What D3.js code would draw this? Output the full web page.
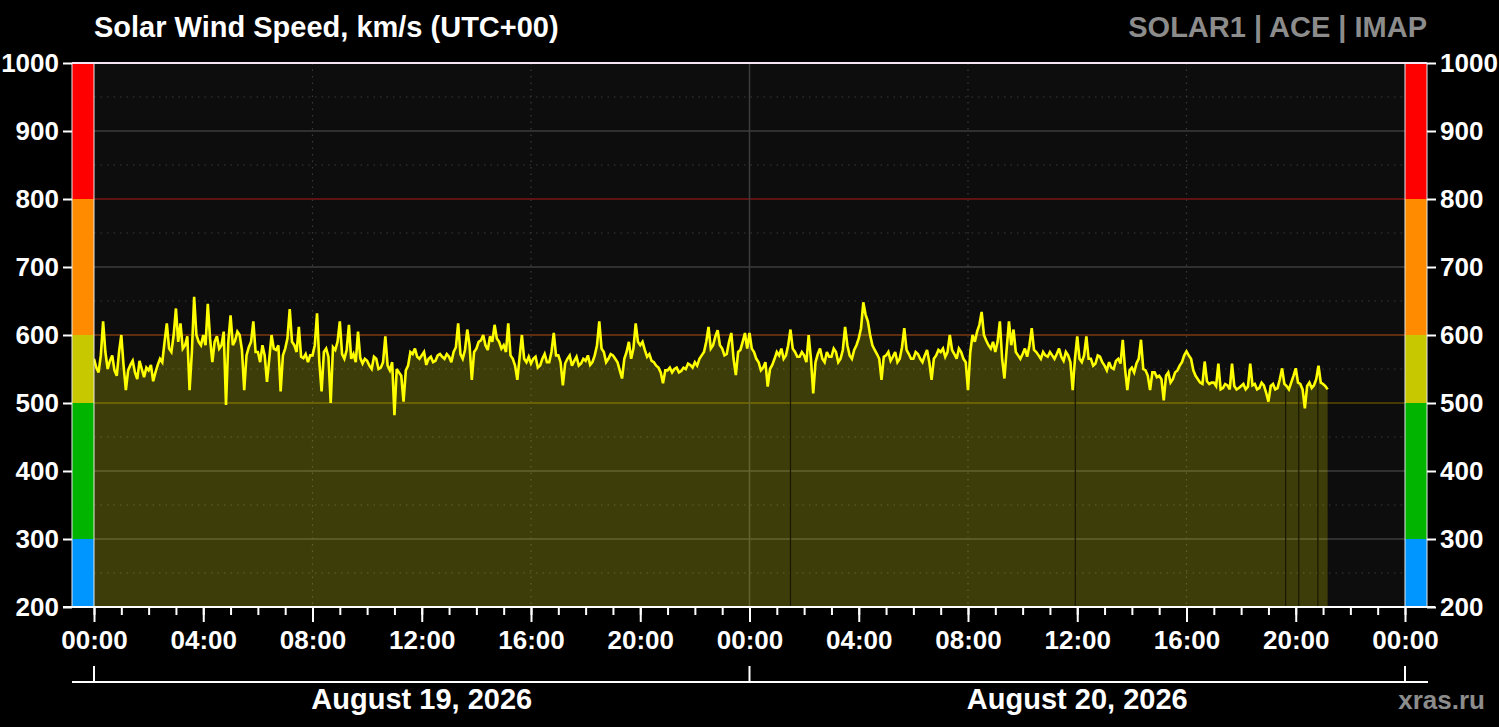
<!DOCTYPE html>
<html>
<head>
<meta charset="utf-8">
<script src="https://cdn.jsdelivr.net/npm/d3@7"></script>
<style>
  html, body { margin: 0; padding: 0; background: #000; }
  svg { display: block; font-family: "Liberation Sans", Arial, sans-serif; font-weight: bold; }
</style>
</head>
<body>
<script>
// solar wind speed, 5-minute samples from Aug 19 2026 00:00 UTC (one row per hour)
const startTime = Date.UTC(2026, 7, 19);
const stepMinutes = 5;

const speedDay1 = [
  565, 552, 545, 570, 620, 575, 550, 562, 570, 548, 540, 575,
  600, 555, 519, 548, 556, 562, 545, 535, 562, 550, 538, 552,
  548, 556, 532, 545, 556, 565, 560, 590, 617, 580, 575, 600,
  639, 590, 617, 580, 585, 598, 519, 575, 656, 600, 590, 585,
  600, 585, 646, 595, 560, 590, 598, 580, 585, 605, 497, 590,
  629, 585, 592, 605, 600, 578, 519, 570, 582, 590, 620, 575,
  575, 560, 585, 570, 531, 565, 600, 580, 578, 585, 517, 570,
  580, 595, 638, 590, 585, 575, 612, 568, 566, 572, 560, 570,
  570, 585, 632, 560, 517, 575, 580, 568, 500, 582, 578, 590,
  620, 572, 565, 578, 615, 565, 572, 560, 605, 566, 558, 565,
  562, 555, 550, 568, 565, 550, 552, 560, 598, 555, 548, 560,
  482, 550, 545, 540, 502, 548, 555, 575, 572, 580, 568, 565,
  570, 575, 556, 565, 568, 560, 562, 570, 572, 568, 565, 572,
  568, 560, 575, 582, 617, 572, 565, 578, 608, 585, 534, 575,
  580, 590, 592, 600, 585, 578, 598, 590, 615, 595, 590, 580,
  585, 575, 617, 570, 565, 555, 534, 568, 600, 565, 560, 568,
  558, 565, 568, 552, 555, 565, 572, 560, 560, 575, 603, 570,
  570, 560, 526, 558, 565, 570, 555, 562, 568, 555, 558, 565,
  562, 570, 556, 560, 570, 585, 620, 580, 575, 560, 565, 572,
  570, 565, 560, 548, 536, 565, 575, 590, 565, 580, 617, 590,
  585, 590, 578, 568, 572, 562, 560, 555, 552, 545, 529, 548,
  548, 552, 545, 550, 552, 545, 547, 552, 550, 558, 556, 552,
  560, 555, 565, 570, 575, 590, 612, 580, 585, 598, 607, 585,
  580, 570, 572, 590, 603, 565, 541, 575, 578, 590, 603, 580
];

const speedDay2 = [
  603, 580, 575, 565, 560, 548, 552, 560, 524, 550, 556, 565,
  575, 570, 580, 565, 570, 585, 608, 580, 575, 568, 568, 575,
  570, 560, 600, 565, 514, 560, 572, 580, 565, 560, 575, 568,
  568, 580, 575, 560, 565, 578, 612, 585, 570, 565, 578, 585,
  595, 610, 648, 630, 620, 600, 585, 578, 572, 565, 534, 568,
  570, 575, 562, 568, 575, 560, 565, 582, 610, 578, 572, 565,
  565, 575, 572, 565, 560, 570, 578, 560, 534, 565, 570, 578,
  575, 580, 568, 575, 600, 578, 572, 565, 580, 575, 565, 560,
  519, 575, 600, 590, 605, 615, 634, 600, 592, 585, 580, 590,
  575, 590, 620, 565, 536, 580, 620, 585, 608, 575, 570, 565,
  572, 580, 568, 585, 610, 578, 575, 570, 565, 575, 570, 568,
  575, 570, 565, 572, 580, 568, 562, 575, 570, 560, 519, 565,
  598, 565, 560, 570, 598, 565, 565, 555, 558, 570, 568, 560,
  555, 548, 560, 552, 550, 562, 565, 558, 593, 550, 519, 548,
  552, 545, 558, 565, 593, 550, 548, 540, 519, 545, 545, 538,
  540, 535, 504, 540, 545, 530, 535, 545, 548, 555, 560, 570,
  576, 570, 565, 548, 540, 535, 530, 528, 561, 532, 528, 530,
  530, 525, 558, 520, 522, 528, 526, 520, 558, 525, 520, 522,
  525, 528, 520, 524, 558, 526, 528, 520, 522, 530, 526, 515,
  502, 525, 528, 520, 522, 535, 551, 528, 525, 520, 530, 540,
  551, 530, 528, 520, 492, 525, 530, 522, 526, 535, 555, 530,
  528, 525, 520
];

// short data dropouts (hours since start)
const gapHours = [25.5, 35.93, 43.63, 44.11, 44.81];

const yTicks = [200, 300, 400, 500, 600, 700, 800, 900, 1000];
const yHalfTicks = [250, 350, 450, 550, 650, 750, 850, 950];
const levelBands = [
  { from: 200, to: 300, color: "#0096ff" },
  { from: 300, to: 500, color: "#00b400" },
  { from: 500, to: 600, color: "#c8c800" },
  { from: 600, to: 800, color: "#ff8c00" },
  { from: 800, to: 1000, color: "#ff0000" }
];
const levelLines = [
  { v: 500, color: "#5a4a00" },
  { v: 600, color: "#7a3a10" },
  { v: 800, color: "#7a1515" }
];
const dayLabels = ["August 19, 2026", "August 20, 2026"];

const speeds = speedDay1.concat(speedDay2);
const data = speeds.map((v, i) => ({ t: new Date(startTime + i * stepMinutes * 60000), v: v }));

const W = 1499, H = 727;
const pLeft = 94, pRight = 1405, pTop = 63, pBottom = 607;

const svg = d3.select("body").append("svg")
  .attr("width", W).attr("height", H);

const x = d3.scaleUtc()
  .domain([new Date(startTime), new Date(startTime + 48 * 3600000)])
  .range([pLeft, pRight]);
const y = d3.scaleLinear().domain([200, 1000]).range([pBottom, pTop]);

// plot background
svg.append("rect").attr("x", pLeft).attr("y", pTop)
  .attr("width", pRight - pLeft).attr("height", pBottom - pTop)
  .attr("fill", "#0d0d0d");

// grid
const grid = svg.append("g");
grid.selectAll(".hd").data(yHalfTicks).enter().append("line")
  .attr("x1", pLeft).attr("x2", pRight)
  .attr("y1", d => y(d)).attr("y2", d => y(d))
  .attr("stroke", "#3a3a3a").attr("stroke-width", 1.2).attr("stroke-dasharray", "1.5,5");
grid.selectAll(".hs").data(yTicks.filter(d => d > 200 && d < 1000)).enter().append("line")
  .attr("x1", pLeft).attr("x2", pRight)
  .attr("y1", d => y(d)).attr("y2", d => y(d))
  .attr("stroke", d => { const l = levelLines.find(e => e.v === d); return l ? l.color : "#3c3c3c"; })
  .attr("stroke-width", 1.5);

const hours8 = d3.utcHour.every(8).range(x.domain()[0], x.domain()[1]).slice(1);
grid.selectAll(".vl").data(hours8).enter().append("line")
  .attr("x1", d => x(d)).attr("x2", d => x(d))
  .attr("y1", pTop).attr("y2", pBottom)
  .attr("stroke", d => d.getUTCHours() === 0 ? "#3c3c3c" : "#3a3a3a")
  .attr("stroke-width", d => d.getUTCHours() === 0 ? 1.5 : 1.2)
  .attr("stroke-dasharray", d => d.getUTCHours() === 0 ? null : "1.5,5");

// filled area and line
const area = d3.area().x(d => x(d.t)).y0(y(200)).y1(d => y(d.v));
const line = d3.line().x(d => x(d.t)).y(d => y(d.v));

svg.append("path").datum(data)
  .attr("d", area).attr("fill", "#ffff00").attr("fill-opacity", 0.2);

const bis = d3.bisector(d => d.t).left;
svg.selectAll(".gap").data(gapHours).enter().append("line")
  .attr("x1", d => x(new Date(startTime + d * 3600000)))
  .attr("x2", d => x(new Date(startTime + d * 3600000)))
  .attr("y1", d => {
    const i = Math.min(data.length - 1, bis(data, new Date(startTime + d * 3600000)));
    return y(data[i].v) + 4;
  })
  .attr("y2", pBottom)
  .attr("stroke", "#181800").attr("stroke-width", 1.2);

svg.append("path").datum(data)
  .attr("d", line).attr("fill", "none")
  .attr("stroke", "#ffff00").attr("stroke-width", 2.6).attr("stroke-linejoin", "miter")
  .attr("stroke-miterlimit", 3);

// colour scale bars on both sides
[[72, pLeft], [pRight, 1427]].forEach(([a, b]) => {
  svg.append("g").selectAll("rect").data(levelBands).enter().append("rect")
    .attr("x", a).attr("width", b - a)
    .attr("y", d => y(d.to)).attr("height", d => y(d.from) - y(d.to))
    .attr("fill", d => d.color);
  [a, b].forEach(xx => svg.append("line")
    .attr("x1", xx).attr("x2", xx).attr("y1", pTop).attr("y2", pBottom)
    .attr("stroke", "#e8e8e8").attr("stroke-width", 1));
});

// frame lines
svg.append("line").attr("x1", 72).attr("x2", 1427).attr("y1", pTop).attr("y2", pTop)
  .attr("stroke", "#f4e4f4").attr("stroke-width", 2);
svg.append("line").attr("x1", 63).attr("x2", 1435).attr("y1", pBottom).attr("y2", pBottom)
  .attr("stroke", "#ffffff").attr("stroke-width", 2);

// y axes
const yAxisL = d3.axisLeft(y).tickValues(yTicks).tickSize(9).tickPadding(4).tickFormat(d3.format("d"));
const yAxisR = d3.axisRight(y).tickValues(yTicks).tickSize(9).tickPadding(4).tickFormat(d3.format("d"));
svg.append("g").attr("transform", "translate(72,0)").call(yAxisL);
svg.append("g").attr("transform", "translate(1427,0)").call(yAxisR);

// x axes
const xMinor = d3.axisBottom(x).ticks(d3.utcHour.every(1)).tickSize(8).tickFormat("");
const xMajor = d3.axisBottom(x).ticks(d3.utcHour.every(4)).tickSize(15).tickPadding(9)
  .tickFormat(d3.utcFormat("%H:%M"));
svg.append("g").attr("transform", `translate(0,${pBottom})`).call(xMinor);
svg.append("g").attr("transform", `translate(0,${pBottom})`).call(xMajor);

svg.selectAll(".domain").remove();
svg.selectAll(".tick line").attr("stroke", "#fff").attr("stroke-width", 2);
svg.selectAll(".tick text").attr("fill", "#fff").attr("font-size", 26)
  .attr("font-family", "Liberation Sans, Arial, sans-serif").attr("font-weight", "bold");

// date axis
const days = d3.utcDay.range(x.domain()[0], new Date(startTime + 49 * 3600000));
svg.append("line").attr("x1", 72).attr("x2", 1428).attr("y1", 682).attr("y2", 682)
  .attr("stroke", "#fff").attr("stroke-width", 2);
svg.selectAll(".dtick").data(days).enter().append("line")
  .attr("x1", d => x(d)).attr("x2", d => x(d)).attr("y1", 666).attr("y2", 682)
  .attr("stroke", "#fff").attr("stroke-width", 2);
svg.selectAll(".dlabel").data(dayLabels).enter().append("text")
  .attr("x", (d, i) => x(new Date(startTime + (i * 24 + 12) * 3600000)))
  .attr("y", 709).attr("text-anchor", "middle")
  .attr("fill", "#fff").attr("font-size", 29).text(d => d);

// titles
svg.append("text").attr("x", 94).attr("y", 37).attr("fill", "#fff")
  .attr("font-size", 29).text("Solar Wind Speed, km/s (UTC+00)");
svg.append("text").attr("x", 1427).attr("y", 37).attr("fill", "#8c8c8c")
  .attr("text-anchor", "end").attr("font-size", 29).text("SOLAR1 | ACE | IMAP");
svg.append("text").attr("x", 1485).attr("y", 709).attr("fill", "#8c8c8c")
  .attr("text-anchor", "end").attr("font-size", 26).text("xras.ru");
</script>
</body>
</html>
